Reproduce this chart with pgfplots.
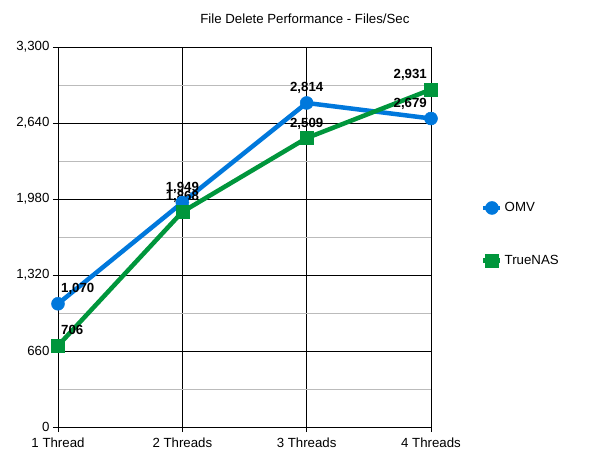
\documentclass[border=0pt]{standalone}
\usepackage{fontspec}
\setmainfont{Liberation Sans}
\usepackage{pgfplots}
\pgfplotsset{compat=1.18}
\definecolor{omv}{RGB}{0,120,220}
\definecolor{tnas}{RGB}{0,150,60}
\definecolor{mgrid}{RGB}{187,187,187}
\begin{document}
\begin{tikzpicture}
\begin{axis}[
  at={(0,0)}, anchor=south west,
  scale only axis, width=373bp, height=380bp,
  xmin=0, xmax=3, ymin=0, ymax=3300,
  xtick={0,1,2,3},
  xticklabels={1 Thread,2 Threads,3 Threads,4 Threads},
  ytick={0,660,1320,1980,2640,3300},
  minor ytick={330,990,1650,2310,2970},
  /pgf/number format/1000 sep={,},
  /pgf/number format/assume math mode=true,
  tick label style={font=\fontsize{13.3}{15}\selectfont},
  xticklabel style={yshift=-2bp},
  tick align=outside,
  xtick pos=bottom, ytick pos=left,
  major tick length=5bp, minor tick length=0pt,
  tick style={black, line width=0.8bp},
  grid=both,
  major grid style={black, line width=0.8bp},
  minor grid style={mgrid, line width=0.8bp},
  axis line style={black, line width=0.8bp},
  title={File Delete Performance - Files/Sec},
  title style={font=\fontsize{13.3}{15}\selectfont, anchor=base, at={(0.662,1)}, yshift=18bp},
  legend style={draw=none, fill=none, at={(1,0.507)}, anchor=west, xshift=50bp,
    font=\fontsize{13.3}{15}\selectfont, row sep=38bp, inner sep=0pt},
  legend cell align=left,
  legend image code/.code={\draw[mark repeat=2,mark phase=2,#1] plot coordinates {(0bp,0bp)(8.5bp,0bp)(17bp,0bp)};},
  clip=false,
]
\addplot[omv, line width=4.5bp, mark=*, mark size=6.5bp, mark options={solid, fill=omv, line width=0.5bp}]
  coordinates {(0,1070) (1,1949) (2,2814) (3,2679)};
\addlegendentry{OMV}
\addplot[tnas, line width=4.5bp, mark=square*, mark size=6.5bp, mark options={solid, fill=tnas, line width=0.5bp}]
  coordinates {(0,706) (1,1868) (2,2509) (3,2931)};
\addlegendentry{TrueNAS}
\begin{scope}[every node/.style={font=\bfseries\fontsize{13.3}{15}\selectfont, inner sep=0pt}]
\node[anchor=base west] at ([xshift=3bp,yshift=11bp]axis cs:0,1070) {1,070};
\node[anchor=base west] at ([xshift=3bp,yshift=11bp]axis cs:0,706) {706};
\node[anchor=base] at ([yshift=11bp]axis cs:1,1949) {1,949};
\node[anchor=base] at ([yshift=11bp]axis cs:1,1868) {1,868};
\node[anchor=base] at ([yshift=11bp]axis cs:2,2814) {2,814};
\node[anchor=base] at ([yshift=11bp]axis cs:2,2509) {2,509};
\node[anchor=base east] at ([xshift=-4bp,yshift=11bp]axis cs:3,2931) {2,931};
\node[anchor=base east] at ([xshift=-4bp,yshift=11bp]axis cs:3,2679) {2,679};
\end{scope}
\path[use as bounding box] (rel axis cs:0,0) ++(-58bp,-36bp) rectangle ++(600bp,463bp);
\end{axis}
\end{tikzpicture}
\end{document}
